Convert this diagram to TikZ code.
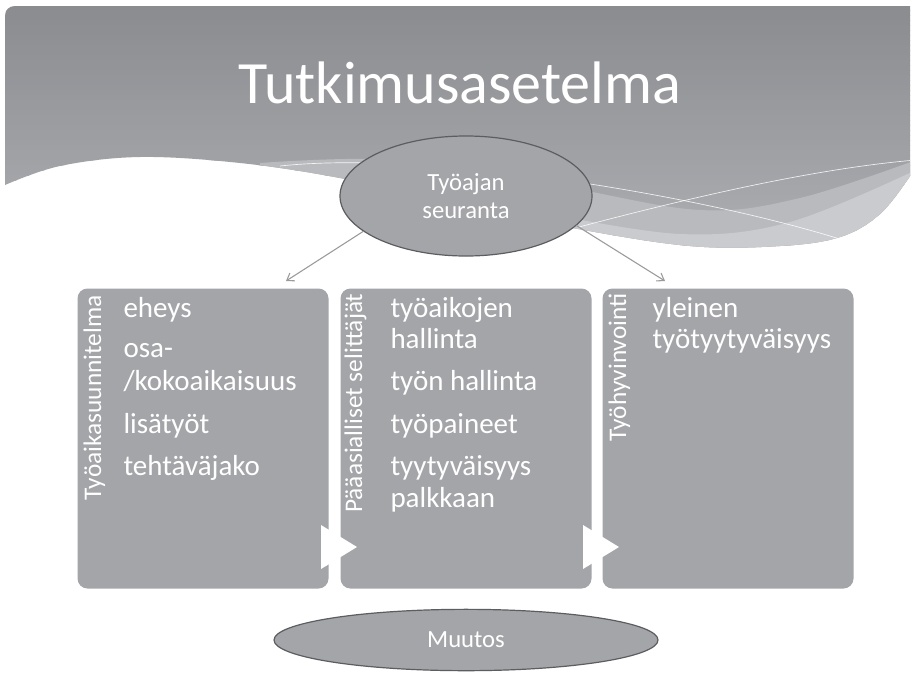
\documentclass[tikz,border=0pt]{standalone}
\usepackage{fontspec}
\setmainfont{Carlito}
\usetikzlibrary{arrows.meta,shapes.geometric}

\definecolor{bannerTop}{HTML}{8A8B8F}
\definecolor{bannerBot}{HTML}{AEAFB3}
\definecolor{bandMid}{HTML}{B9BABD}
\definecolor{bandLight}{HTML}{CACBCE}
\definecolor{boxGray}{HTML}{A4A5A9}
\definecolor{ovalLine}{HTML}{5C5D60}
\definecolor{connGray}{HTML}{9A9A9C}

\tikzset{every picture/.style={line width=0.75pt}}
\tikzset{
  box/.style={fill=boxGray, rounded corners=7.5pt, minimum width=188.25pt, minimum height=225pt, anchor=north west, inner sep=0pt},
  oval/.style={ellipse, draw=ovalLine, line width=0.9pt, fill=boxGray, inner sep=0pt, text=white, align=center, font=\fontsize{18.5pt}{21pt}\selectfont},
  item/.style={anchor=base west, inner sep=0pt, text=white, font=\fontsize{21.75pt}{24pt}\selectfont},
  vlabel/.style={rotate=90, anchor=base east, inner sep=0pt, text=white, font=\fontsize{19pt}{22pt}\selectfont},
  conn/.style={draw=connGray, line width=0.8pt, -{Straight Barb[length=5pt,width=7pt]}},
  swoosh/.style={draw=white, line width=0.5pt, draw opacity=0.85},
}

\begin{document}
\begin{tikzpicture}[x=0.75pt,y=0.75pt,yscale=-1,xscale=1]
\useasboundingbox (0,0) rectangle (916,675);
\fill[white] (0,0) rectangle (916,675);

%Banner with wave
\begin{scope}
\clip (5,185) -- (5,16) .. controls (5,10) and (9,6) .. (15,6) -- (910,6) -- (910,176)
  -- plot[smooth, tension=0.6] coordinates {(910,176) (880,214) (840,237) (780,246) (690,246) (573,228) (460,204) (340,178) (240,163) (140,157) (60,166) (5,185)} -- cycle;
% gradient, dark at the top
\foreach \i in {0,...,49}{
  \pgfmathsetmacro{\pct}{100-2*\i}
  \fill[bannerTop!\pct!bannerBot] (0,5*\i) rectangle (916,5*\i+5.6);
}
\fill[bandMid] plot[smooth, tension=0.6] coordinates {(260,163) (400,160) (560,186) (700,210) (800,198) (916,160)} -- (916,260) -- (260,260) -- cycle;
\fill[bandLight] plot[smooth, tension=0.6] coordinates {(540,212) (680,234) (790,222) (916,170)} -- (916,260) -- (540,260) -- cycle;
\draw[swoosh] (280,166) .. controls (430,150) and (700,195) .. (843,240);
\draw[swoosh] (579,227) .. controls (700,195) and (820,168) .. (916,160);
\end{scope}

% Title
\node[text=white, font=\fontsize{45pt}{50pt}\selectfont, anchor=base, inner sep=0pt] (title) at (460,103) {Tutkimusasetelma};

% Boxes
\node[box] (suunnitelma) at (77,288) {};
\node[box] (selittajat) at (340,288) {};
\node[box] (hyvinvointi) at (602,288) {};

% White arrow heads between boxes
\fill[white] (321,525) -- (357,547) -- (321,569) -- cycle;
\fill[white] (583,525) -- (619,547) -- (583,569) -- cycle;

% Vertical labels
\node[vlabel] (lblA) at (101,295) {Työaikasuunnitelma};
\node[vlabel] (lblB) at (362,293) {Pääasialliset selittäjät};
\node[vlabel] (lblC) at (626,293) {Työhyvinvointi};

% Items
\node[item] (eheys) at (123,317) {eheys};
\node[item] (osa) at (123,357) {osa-};
\node[item] (koko) at (123,390) {/kokoaikaisuus};
\node[item] (lisa) at (123,433) {lisätyöt};
\node[item] (jako) at (123,475) {tehtäväjako};

\node[item] (aikojen) at (390,317) {työaikojen};
\node[item] (hallA) at (390,348) {hallinta};
\node[item] (hallB) at (390,390) {työn hallinta};
\node[item] (paine) at (390,433) {työpaineet};
\node[item] (tyyt) at (390,475) {tyytyväisyys};
\node[item] (palkka) at (390,507) {palkkaan};

\node[item] (yleinen) at (652,317) {yleinen};
\node[item] (tyotyyt) at (652,348) {työtyytyväisyys};

% Ovals
\node[oval, minimum width=189pt, minimum height=90pt] (seuranta) at (466,196) {Työajan\\seuranta};
\node[oval, minimum width=288pt, minimum height=46pt] (muutos) at (466,640) {Muutos};

% Connectors
\coordinate (endA) at (286,281);
\coordinate (endC) at (665,281);
\draw[conn] (seuranta.199) -- (endA);
\draw[conn] (seuranta.345) -- (endC);

\end{tikzpicture}
\end{document}
